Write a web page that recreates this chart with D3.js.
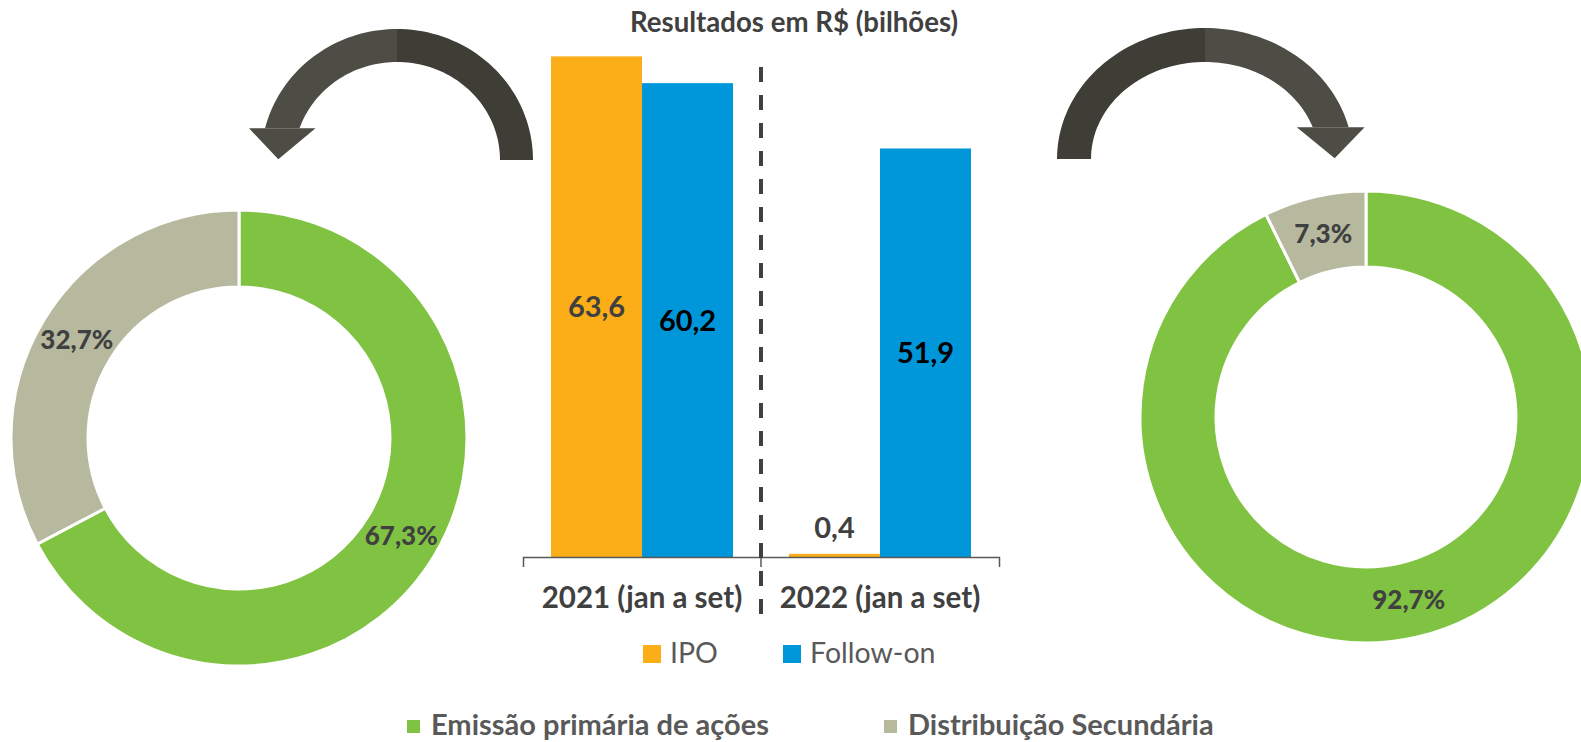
<!DOCTYPE html>
<html>
<head>
<meta charset="utf-8">
<script src="https://cdn.jsdelivr.net/npm/d3@7"></script>
<style>
  body { margin: 0; background: #fff; }
  text { font-family: Lato, "Open Sans", sans-serif; }
</style>
</head>
<body>
<div id="chart"></div>
<script>
// data
var categories = ["2021 (jan a set)", "2022 (jan a set)"];
var series = ["IPO", "Follow-on"];
var ipoValues = [63.6, 0.4];
var followOnValues = [60.2, 51.9];
var donutCategories = ["Emissão primária de ações", "Distribuição Secundária"];
var donut2021 = [67.3, 32.7];
var donut2022 = [92.7, 7.3];
var chartTitle = "Resultados em R$ (bilhões)";

var barColors = { "IPO": "#FBAE17", "Follow-on": "#0096DA" };
var donutColors = ["#80C342", "#B7B99F"];

var w = 1581, h = 742;
var locale = d3.formatLocale({ decimal: ",", thousands: ".", grouping: [3], currency: ["R$", ""] });
var fmt = locale.format(".1f");

var svg = d3.select("#chart").append("svg")
    .attr("width", w)
    .attr("height", h);

// ---------- curved arrows ----------
function arrow(cx, cy, rx, ry, th, endDeg, side) {
    // side = -1 : head on the left, +1 : head on the right
    var g = svg.append("g");
    function pt(a, b, t) {
        return [cx - side * a * Math.cos(t), cy - b * Math.sin(t)];
    }
    var tEnd = endDeg * Math.PI / 180;
    var outerEnd = pt(rx, ry, tEnd);
    // inner end taken at the same height so the head base is flat
    var sInner = (cy - outerEnd[1]) / (ry - th);
    var tInner = Math.PI - Math.asin(sInner);
    function band(t0, t1o, t1i) {
        var pts = [], n = 40, i;
        for (i = 0; i <= n; i++) pts.push(pt(rx, ry, t0 + (t1o - t0) * i / n));
        for (i = n; i >= 0; i--) pts.push(pt(rx - th, ry - th, t0 + (t1i - t0) * i / n));
        return "M" + pts.map(function (p) { return p.join(","); }).join("L") + "Z";
    }
    g.append("path").attr("d", band(0, Math.PI / 2 + 0.01, Math.PI / 2 + 0.01)).attr("fill", "#3E3E36");
    g.append("path").attr("d", band(Math.PI / 2, tEnd, tInner)).attr("fill", "#4D4D46");
    var innerEnd = pt(rx - th, ry - th, tInner);
    var yb = outerEnd[1];
    var lo = Math.min(outerEnd[0], innerEnd[0]), hi = Math.max(outerEnd[0], innerEnd[0]);
    var mid = (lo + hi) / 2;
    g.append("path")
        .attr("d", "M" + (lo - 16) + "," + yb + "L" + (hi + 16) + "," + yb +
            "L" + (mid + side * 4) + "," + (yb + 31) + "Z")
        .attr("fill", "#4D4D46");
}
arrow(397, 160, 136, 131, 33, 166, -1);
arrow(1205, 159, 148, 131, 34, 166, 1);

// ---------- donuts ----------
function donut(values, cx, cy, rOuter, rInner) {
    var pie = d3.pie().sort(null);
    var arc = d3.arc().outerRadius(rOuter).innerRadius(rInner);
    var g = svg.append("g").attr("transform", "translate(" + cx + "," + cy + ")");
    var arcs = g.selectAll("g.arc")
        .data(pie(values))
        .enter()
        .append("g")
        .attr("class", "arc");
    arcs.append("path")
        .attr("d", arc)
        .attr("fill", function (d, i) { return donutColors[i]; })
        .attr("stroke", "#fff")
        .attr("stroke-width", 3);
    arcs.append("text")
        .attr("transform", function (d) { return "translate(" + arc.centroid(d) + ")"; })
        .attr("text-anchor", "middle")
        .attr("dy", "0.36em")
        .attr("font-size", 26)
        .attr("font-weight", 900)
        .attr("fill", "#404040")
        .text(function (d) { return fmt(d.value) + "%"; });
}
donut(donut2021, 239, 438, 228, 151);
donut(donut2022, 1366, 417, 226, 150);

// ---------- bars ----------
var x0 = d3.scaleBand().domain(categories).range([523, 999]);
var x1 = d3.scaleBand().domain(series).range([28, 210]);
var y = d3.scaleLinear().domain([0, 70]).range([557, 6]);

var barData = categories.map(function (c, i) {
    return { cat: c, values: [
        { key: "IPO", value: ipoValues[i] },
        { key: "Follow-on", value: followOnValues[i] }
    ] };
});

var groups = svg.selectAll("g.cat")
    .data(barData)
    .enter()
    .append("g")
    .attr("class", "cat")
    .attr("transform", function (d) { return "translate(" + x0(d.cat) + ",0)"; });

var bars = groups.selectAll("g.bar")
    .data(function (d) { return d.values; })
    .enter()
    .append("g")
    .attr("class", "bar");

bars.append("rect")
    .attr("x", function (d) { return x1(d.key); })
    .attr("width", x1.bandwidth())
    .attr("y", function (d) { return y(d.value); })
    .attr("height", function (d) { return y(0) - y(d.value); })
    .attr("fill", function (d) { return barColors[d.key]; });

bars.append("text")
    .attr("x", function (d) { return x1(d.key) + x1.bandwidth() / 2; })
    .attr("y", function (d) {
        if (y(0) - y(d.value) < 60) return y(d.value) - 16;
        return (y(d.value) + y(0)) / 2;
    })
    .attr("dy", function (d) { return y(0) - y(d.value) < 60 ? 0 : "0.36em"; })
    .attr("text-anchor", "middle")
    .attr("font-size", 29)
    .attr("font-weight", "bold")
    .attr("fill", function (d) { return d.key === "IPO" ? "#404040" : "#000"; })
    .text(function (d) { return fmt(d.value); });

// axis
var axis = svg.append("g")
    .attr("transform", "translate(0," + y(0) + ")")
    .call(d3.axisBottom(x0).tickSizeInner(0).tickSizeOuter(10).tickFormat(""));
axis.select(".domain").attr("stroke", "#595959").attr("stroke-width", 1.5);
axis.append("line")
    .attr("x1", x0(categories[1])).attr("x2", x0(categories[1]))
    .attr("y1", 0).attr("y2", 10)
    .attr("stroke", "#595959").attr("stroke-width", 1.5);

svg.selectAll("text.cat")
    .data(categories)
    .enter()
    .append("text")
    .attr("class", "cat")
    .attr("x", function (d) { return x0(d) + x0.bandwidth() / 2; })
    .attr("y", 608)
    .attr("text-anchor", "middle")
    .attr("font-size", 29.5)
    .attr("font-weight", "bold")
    .attr("fill", "#404040")
    .text(function (d) { return d; });

// dashed separator
svg.append("line")
    .attr("x1", x0(categories[1])).attr("x2", x0(categories[1]))
    .attr("y1", 67).attr("y2", 616)
    .attr("stroke", "#404040")
    .attr("stroke-width", 4)
    .attr("stroke-dasharray", "15,13");

// title
svg.append("text")
    .attr("x", 794).attr("y", 32)
    .attr("text-anchor", "middle")
    .attr("font-size", 27.6)
    .attr("font-weight", "bold")
    .attr("fill", "#404040")
    .text(chartTitle);

// bar legend
var leg = svg.selectAll("g.leg")
    .data(series)
    .enter()
    .append("g")
    .attr("class", "leg")
    .attr("transform", function (d, i) { return "translate(" + (643 + i * 140) + ",645)"; });
leg.append("rect").attr("width", 18).attr("height", 18)
    .attr("fill", function (d) { return barColors[d]; });
leg.append("text").attr("x", 27).attr("y", 18)
    .attr("font-size", 28.5)
    .attr("fill", "#595959")
    .text(function (d) { return d; });

// donut legend
var leg2 = svg.selectAll("g.leg2")
    .data(donutCategories)
    .enter()
    .append("g")
    .attr("class", "leg2")
    .attr("transform", function (d, i) { return "translate(" + [407, 884][i] + ",720)"; });
leg2.append("rect").attr("width", 13).attr("height", 13)
    .attr("fill", function (d, i) { return donutColors[i]; });
leg2.append("text").attr("x", 24).attr("y", 15)
    .attr("font-size", 29)
    .attr("font-weight", "bold")
    .attr("fill", "#595959")
    .text(function (d) { return d; });
</script>
</body>
</html>
